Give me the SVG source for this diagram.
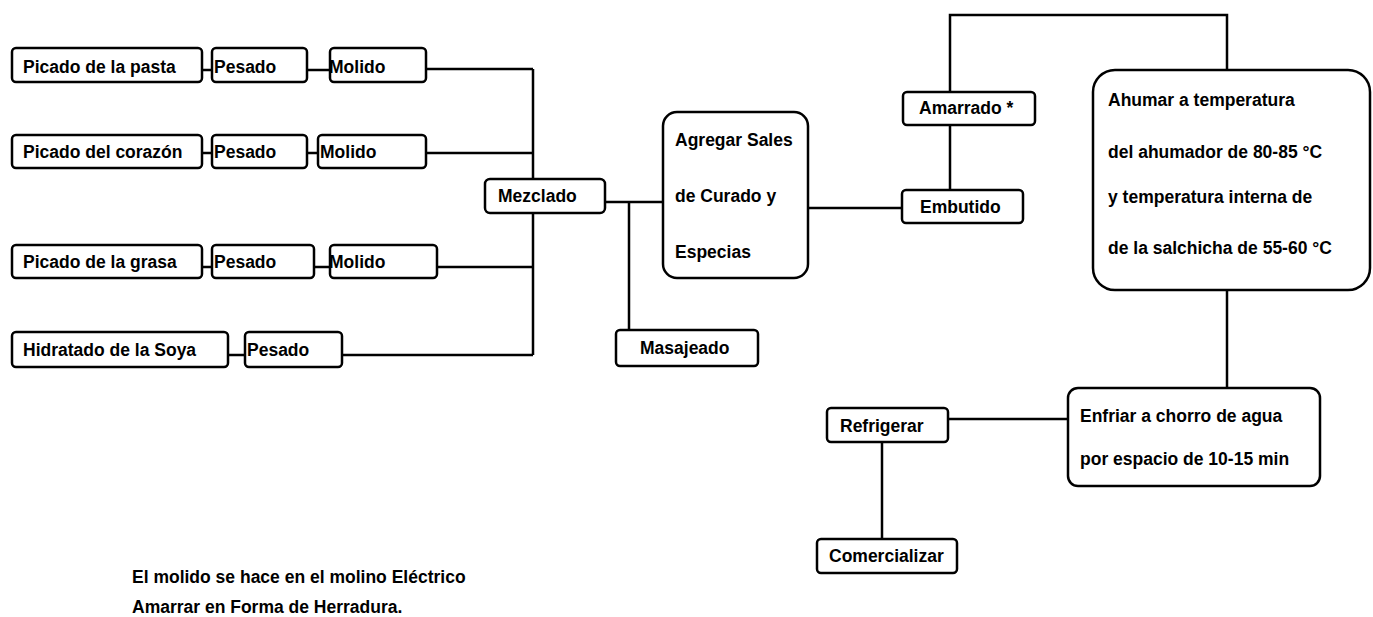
<svg xmlns="http://www.w3.org/2000/svg" width="1373" height="617" viewBox="0 0 1373 617">
<style>
.b{fill:#fff;stroke:#000;stroke-width:2.5}
.t{font-family:"Liberation Sans",Arial,sans-serif;font-weight:bold;font-size:17.5px;fill:#000}
.c{fill:none;stroke:#000;stroke-width:2.5}
</style>
<rect width="1373" height="617" fill="#fff"/>
<g id="connectors">
<path class="c" d="M202 70H212M307 70H330M426 69H533"/>
<path class="c" d="M202 153H212M307 153H318M426 153H533"/>
<path class="c" d="M202 267H212M314 267H330M437 267H533"/>
<path class="c" d="M228 355H245M342 355H533"/>
<path class="c" d="M533 69V355"/>
<path class="c" d="M605 202H663M629 202V330"/>
<path class="c" d="M808 208H902"/>
<path class="c" d="M950 190V15H1227V70"/>
<path class="c" d="M1227 290V388"/>
<path class="c" d="M948 419H1068"/>
<path class="c" d="M882 442V539"/>
</g>
<g id="n1"><rect class="b" x="12" y="48" width="190" height="34" rx="4"/><text class="t" x="23" y="73">Picado de la pasta</text></g>
<g id="n2"><rect class="b" x="212" y="48" width="95" height="34" rx="4"/><text class="t" x="214" y="73">Pesado</text></g>
<g id="n3"><rect class="b" x="330" y="48" width="96" height="34" rx="4"/><text class="t" x="329" y="73">Molido</text></g>
<g id="n4"><rect class="b" x="12" y="135" width="190" height="33" rx="4"/><text class="t" x="23" y="158">Picado del corazón</text></g>
<g id="n5"><rect class="b" x="212" y="135" width="95" height="33" rx="4"/><text class="t" x="214" y="158">Pesado</text></g>
<g id="n6"><rect class="b" x="318" y="135" width="108" height="33" rx="4"/><text class="t" x="320" y="158">Molido</text></g>
<g id="n7"><rect class="b" x="12" y="245" width="190" height="33" rx="4"/><text class="t" x="23" y="268">Picado de la grasa</text></g>
<g id="n8"><rect class="b" x="212" y="245" width="102" height="33" rx="4"/><text class="t" x="214" y="268">Pesado</text></g>
<g id="n9"><rect class="b" x="330" y="245" width="107" height="33" rx="4"/><text class="t" x="329" y="268">Molido</text></g>
<g id="n10"><rect class="b" x="12" y="332" width="216" height="35" rx="4"/><text class="t" x="23" y="356">Hidratado de la Soya</text></g>
<g id="n11"><rect class="b" x="245" y="332" width="97" height="35" rx="4"/><text class="t" x="247" y="356">Pesado</text></g>
<g id="n12"><rect class="b" x="485" y="179" width="120" height="34" rx="5"/><text class="t" x="498" y="202">Mezclado</text></g>
<g id="n13"><rect class="b" x="663" y="112" width="145" height="166" rx="14"/><text class="t" x="675" y="146">Agregar Sales</text><text class="t" x="675" y="202">de Curado y</text><text class="t" x="675" y="258">Especias</text></g>
<g id="n14"><rect class="b" x="616" y="330" width="142" height="36" rx="4"/><text class="t" x="640" y="354">Masajeado</text></g>
<g id="n15"><rect class="b" x="903" y="92" width="132" height="33" rx="4"/><text class="t" x="919" y="114">Amarrado *</text></g>
<g id="n16"><rect class="b" x="902" y="190" width="121" height="33" rx="4"/><text class="t" x="920" y="213">Embutido</text></g>
<g id="n17"><rect class="b" x="1093" y="70" width="277" height="220" rx="22"/><text class="t" x="1108" y="106">Ahumar a temperatura</text><text class="t" x="1108" y="158">del ahumador de 80-85 °C</text><text class="t" x="1108" y="203">y temperatura interna de</text><text class="t" x="1108" y="254">de la salchicha de 55-60 °C</text></g>
<g id="n18"><rect class="b" x="1068" y="388" width="252" height="98" rx="10"/><text class="t" x="1080" y="422">Enfriar a chorro de agua</text><text class="t" x="1080" y="465">por espacio de 10-15 min</text></g>
<g id="n19"><rect class="b" x="827" y="408" width="121" height="34" rx="4"/><text class="t" x="840" y="432">Refrigerar</text></g>
<g id="n20"><rect class="b" x="817" y="539" width="140" height="34" rx="4"/><text class="t" x="829" y="562">Comercializar</text></g>
<text class="t" x="132" y="583">El molido se hace en el molino Eléctrico</text>
<text class="t" x="132" y="613">Amarrar en Forma de Herradura.</text>
</svg>
